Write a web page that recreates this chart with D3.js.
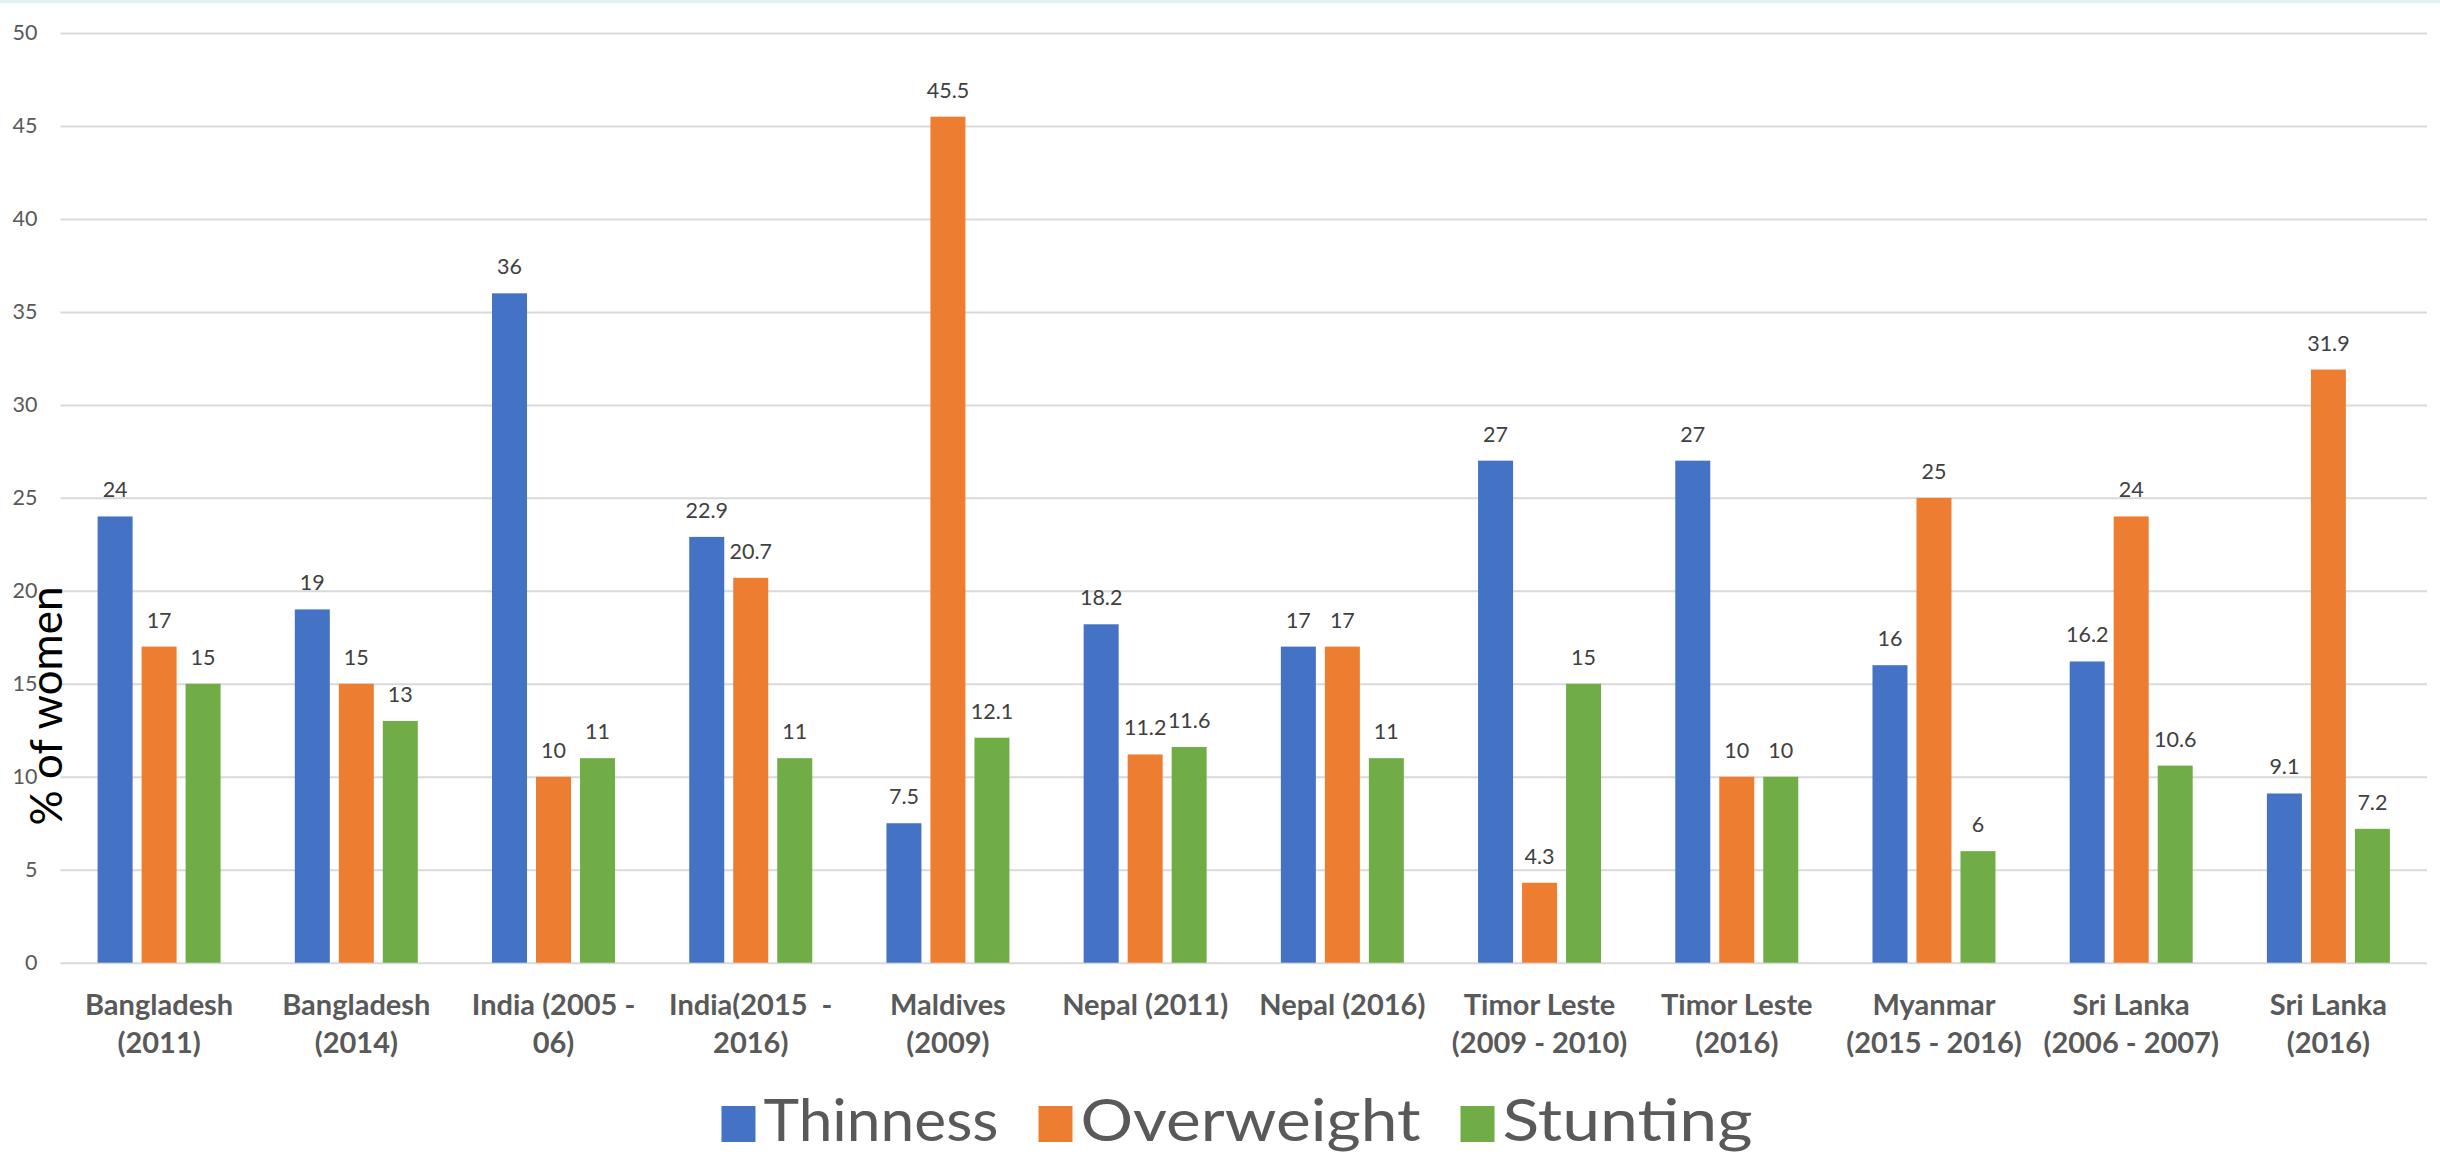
<!DOCTYPE html>
<html>
<head>
<meta charset="utf-8">
<script src="https://cdn.jsdelivr.net/npm/d3@7"></script>
<style>
  html, body { margin: 0; padding: 0; background: #fff; }
  svg { display: block; font-family: Lato, "Open Sans", sans-serif; }
</style>
</head>
<body>
<div id="chart"></div>
<script>
// category labels, split into the lines they wrap onto
const categories = [
  ["Bangladesh", "(2011)"],
  ["Bangladesh", "(2014)"],
  ["India (2005 -", "06)"],
  ["India(2015  -", "2016)"],
  ["Maldives", "(2009)"],
  ["Nepal (2011)"],
  ["Nepal (2016)"],
  ["Timor Leste", "(2009 - 2010)"],
  ["Timor Leste", "(2016)"],
  ["Myanmar", "(2015 - 2016)"],
  ["Sri Lanka", "(2006 - 2007)"],
  ["Sri Lanka", "(2016)"]
];
const seriesNames = ["Thinness", "Overweight", "Stunting"];
const thinness   = [24, 19, 36, 22.9, 7.5, 18.2, 17, 27, 27, 16, 16.2, 9.1];
const overweight = [17, 15, 10, 20.7, 45.5, 11.2, 17, 4.3, 10, 25, 24, 31.9];
const stunting   = [15, 13, 11, 11, 12.1, 11.6, 11, 15, 10, 6, 10.6, 7.2];
const yTicks = [0, 5, 10, 15, 20, 25, 30, 35, 40, 45, 50];
const colors = ["#4472C4", "#ED7D31", "#70AD47"];

const W = 2440, H = 1154;
const margin = { top: 33, right: 13, bottom: 191, left: 60.5 };

const svg = d3.select("#chart")
  .append("svg")
  .attr("width", W)
  .attr("height", H);

// faint strip along the very top edge
svg.append("rect")
  .attr("x", 0).attr("y", 0)
  .attr("width", W).attr("height", 3)
  .style("fill", "#dff3f2");

const x = d3.scaleBand()
  .domain(d3.range(categories.length))
  .range([margin.left, W - margin.right]);

const y = d3.scaleLinear()
  .domain([0, 50])
  .range([H - margin.bottom - 0.3, margin.top]);

// gridlines + tick labels
const yAxis = svg.append("g")
  .attr("transform", `translate(${margin.left}, 0)`)
  .call(d3.axisLeft(y).tickValues(yTicks).tickSize(-(W - margin.right - margin.left)).tickPadding(23));
yAxis.select(".domain").remove();
yAxis.selectAll(".tick line")
  .attr("stroke", "#d9d9d9")
  .attr("stroke-width", 2);
yAxis.selectAll(".tick text")
  .attr("fill", "#595959")
  .style("font-size", "21.5px")
  .style("font-family", "Lato, sans-serif");

// y axis title
svg.append("text")
  .attr("transform", `translate(62, 706) rotate(-90)`)
  .attr("text-anchor", "middle")
  .style("font-size", "44px")
  .attr("fill", "#000")
  .text("% of women");

// bars
const series = [thinness, overweight, stunting];
const barW = 35, barStep = 44;

const groups = svg.append("g")
  .selectAll("g")
  .data(categories)
  .enter()
  .append("g")
  .attr("transform", (d, i) => `translate(${x(i) + x.bandwidth() / 2}, 0)`);

series.forEach((vals, s) => {
  groups.append("rect")
    .attr("x", (d, i) => (s - 1) * barStep - barW / 2)
    .attr("y", (d, i) => y(vals[i]))
    .attr("width", barW)
    .attr("height", (d, i) => y(0) - y(vals[i]))
    .style("fill", colors[s]);

  groups.append("text")
    .attr("x", (s - 1) * barStep)
    .attr("y", (d, i) => y(vals[i]) - 19)
    .attr("text-anchor", "middle")
    .attr("fill", "#404040")
    .style("font-size", "21.5px")
    .text((d, i) => vals[i]);
});

// category labels
const catText = groups.append("text")
  .attr("text-anchor", "middle")
  .attr("fill", "#595959")
  .style("font-size", "29px")
  .style("font-weight", "bold")
  .style("white-space", "pre");
catText.selectAll("tspan")
  .data(d => d)
  .enter()
  .append("tspan")
  .attr("x", 0)
  .attr("y", (d, i) => 1015 + i * 38)
  .text(d => d);

// legend (labels stretched a little to the width Calibri gives them)
const legendWidths = [235, 340, 250];
const legend = svg.append("g");
const items = legend.selectAll("g")
  .data(seriesNames)
  .enter()
  .append("g");
items.append("rect")
  .attr("y", 1106)
  .attr("width", 34)
  .attr("height", 36)
  .style("fill", (d, i) => colors[i]);
items.append("text")
  .attr("x", 42)
  .attr("y", 1141)
  .attr("fill", "#595959")
  .style("font-size", "59px")
  .attr("textLength", (d, i) => legendWidths[i])
  .attr("lengthAdjust", "spacingAndGlyphs")
  .text(d => d);

let cursor = 0;
items.each(function (d, i) {
  d3.select(this).attr("transform", `translate(${cursor}, 0)`);
  cursor += 42 + legendWidths[i] + 40;
});
const legendW = cursor - 40;
legend.attr("transform", `translate(${1237 - legendW / 2}, 0)`);
</script>
</body>
</html>
